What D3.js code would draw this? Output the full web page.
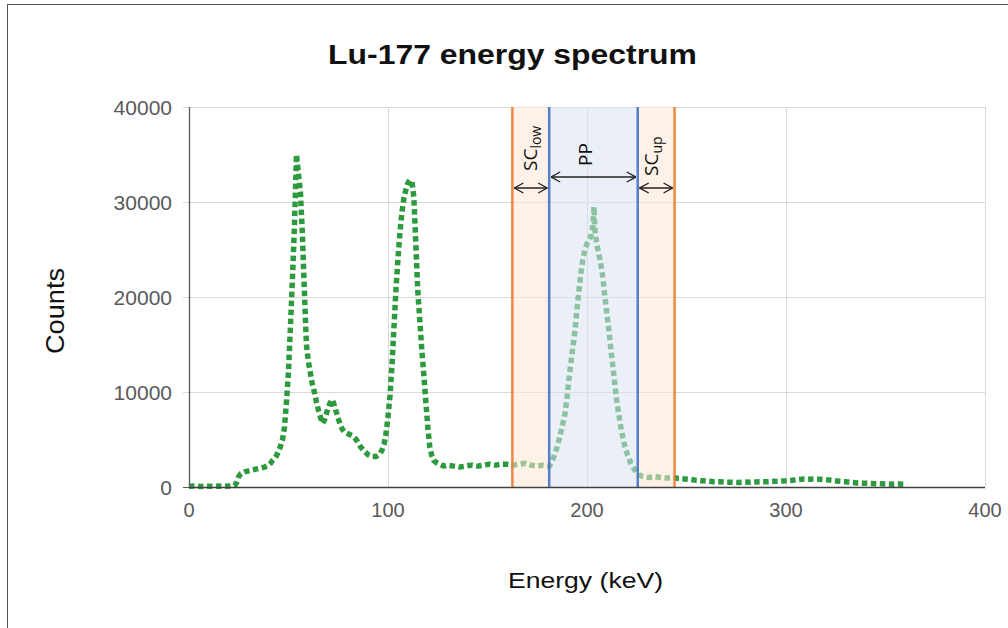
<!DOCTYPE html>
<html>
<head>
<meta charset="utf-8">
<script src="https://cdn.jsdelivr.net/npm/d3@7/dist/d3.min.js"></script>
<style>
  html, body { margin: 0; padding: 0; background: #fff; }
  svg { display: block; }
</style>
</head>
<body>
<svg id="chart" width="1008" height="628"></svg>
<script>
// Spectrum: energy (keV) and counts
const energy = [
  0, 3, 6, 9, 12, 15, 18, 21, 23, 24, 25, 26, 28, 30, 32, 34, 36, 38, 40, 41,
  42, 43, 44, 45, 46, 47, 48, 49, 50, 51, 52, 53, 54, 55, 56, 57, 58, 59, 60, 61,
  62, 63, 64, 65, 66, 67, 68, 69, 70, 71, 72, 73, 74, 75, 76, 77, 78, 80, 82, 84,
  86, 88, 90, 92, 94, 96, 97, 98, 99, 100, 101, 102, 103, 104, 105, 106, 107, 108, 109, 110,
  111, 112, 113, 114, 115, 116, 117, 118, 119, 120, 121, 122, 123, 124, 126, 128, 130, 133, 136, 139,
  142, 145, 148, 151, 154, 157, 160, 163, 166, 169, 172, 175, 178, 181, 182, 183, 184, 185, 186, 187,
  188, 189, 190, 191, 192, 193, 194, 195, 196, 197, 198, 199, 200, 201, 202, 203, 203.5, 204, 205, 206,
  207, 208, 209, 210, 211, 212, 213, 214, 215, 216, 217, 218, 219, 220, 221, 222, 223, 224, 225, 226,
  228, 231, 234, 237, 240, 243, 246, 249, 252, 255, 258, 261, 264, 267, 270, 273, 276, 279, 282, 285,
  288, 291, 294, 297, 300, 303, 306, 309, 312, 315, 318, 321, 324, 327, 330, 333, 336, 339, 342, 345,
  348, 351, 354, 357, 360
];
const counts = [
  80, 110, 60, 90, 70, 100, 80, 120, 150, 500, 1100, 1400, 1600, 1700, 1800, 1900, 2000, 2100, 2300, 2500,
  2800, 3000, 3300, 3800, 4300, 5000, 6300, 9000, 12200, 17000, 22000, 27500, 35000, 33000, 31000, 26500, 20500, 15000, 13200, 12000,
  10800, 10000, 9000, 8100, 7400, 6700, 7000, 7700, 8400, 8900, 9200, 8600, 7900, 7200, 6600, 6100, 5800, 5600, 5400, 5000,
  4300, 3800, 3400, 3200, 3200, 3500, 3900, 4500, 5600, 7400, 9600, 12800, 16800, 20800, 24000, 26800, 28900, 30400, 31300, 32000,
  32300, 32200, 30500, 25500, 20500, 17500, 14400, 11800, 9000, 6300, 4200, 3300, 2800, 2600, 2400, 2200, 2300, 2200, 2100, 2200,
  2300, 2200, 2300, 2400, 2300, 2400, 2400, 2300, 2400, 2500, 2300, 2200, 2300, 2200, 2500, 3000, 3600, 4200, 5000, 5900,
  6800, 7800, 9500, 11500, 13200, 14900, 16500, 18800, 20800, 22600, 24100, 25000, 25600, 26000, 26400, 27500, 29500, 27000, 25500, 24500,
  23400, 22000, 20000, 18200, 16500, 14500, 12700, 10800, 9000, 7600, 6300, 5200, 4300, 3600, 3100, 2500, 2100, 1800, 1500, 1300,
  1100, 1000, 1100, 1000, 950, 1000, 900, 850, 800, 700, 650, 600, 550, 550, 500, 500, 480, 520, 500, 530,
  550, 560, 600, 630, 650, 700, 780, 850, 820, 850, 800, 750, 680, 600, 550, 470, 430, 400, 380, 350,
  330, 310, 300, 310, 290
];

// Energy windows: lower scatter, photopeak, upper scatter
const windowEdges = [162.5, 181, 225.5, 244];
const windowNames = [
  { main: "SC", sub: "low" },
  { main: "PP", sub: "" },
  { main: "SC", sub: "up" }
];

const xTicks = [0, 100, 200, 300, 400];
const yTicks = [0, 10000, 20000, 30000, 40000];

const title = "Lu-177 energy spectrum";
const xTitle = "Energy (keV)";
const yTitle = "Counts";

const svg = d3.select("#chart");
const W = 1008, H = 628;
const plotL = 189, plotR = 985, plotT = 107, plotB = 487;

const x = d3.scaleLinear().domain([0, 400]).range([plotL, plotR]);
const y = d3.scaleLinear().domain([0, 40000]).range([plotB, plotT]);

// Outer frame
svg.append("rect")
  .attr("x", 7.5).attr("y", 4.5)
  .attr("width", W + 10).attr("height", H + 10)
  .attr("fill", "#fff").attr("stroke", "#555").attr("stroke-width", 1);

// Grid
const grid = svg.append("g");
grid.selectAll("line.h").data(yTicks.filter(d => d > 0)).join("line")
  .attr("x1", plotL - 6).attr("x2", plotR)
  .attr("y1", d => Math.round(y(d)) + 0.5).attr("y2", d => Math.round(y(d)) + 0.5)
  .attr("stroke", "#d9d9d9").attr("stroke-width", 1);
grid.selectAll("line.v").data(xTicks.filter(d => d > 0)).join("line")
  .attr("y1", plotT).attr("y2", plotB)
  .attr("x1", d => Math.round(x(d)) + 0.5).attr("x2", d => Math.round(x(d)) + 0.5)
  .attr("stroke", "#d9d9d9").attr("stroke-width", 1);

// Spectrum line
const pts = energy.map((e, i) => [e, counts[i]]);
const line = d3.line().x(d => x(d[0])).y(d => y(d[1]));
svg.append("path")
  .datum(pts)
  .attr("d", line)
  .attr("fill", "none")
  .attr("stroke", "#2e9a40")
  .attr("stroke-width", 5.5)
  .attr("stroke-dasharray", "5.5,3.5")
  .attr("stroke-linejoin", "round");

// Window shading (drawn over the spectrum, semi-transparent)
const bands = [
  { a: windowEdges[0], b: windowEdges[1], fill: "rgba(251,229,214,0.55)" },
  { a: windowEdges[1], b: windowEdges[2], fill: "rgba(218,227,243,0.55)" },
  { a: windowEdges[2], b: windowEdges[3], fill: "rgba(251,229,214,0.55)" }
];
svg.selectAll("rect.band").data(bands).join("rect")
  .attr("x", d => x(d.a)).attr("width", d => x(d.b) - x(d.a))
  .attr("y", plotT).attr("height", plotB - plotT)
  .attr("fill", d => d.fill);

// Window edges
const edgeColors = ["#ed7d31", "#4472c4", "#4472c4", "#ed7d31"];
svg.selectAll("line.edge").data(windowEdges).join("line")
  .attr("x1", d => x(d)).attr("x2", d => x(d))
  .attr("y1", plotT).attr("y2", plotB)
  .attr("stroke", (d, i) => edgeColors[i])
  .attr("stroke-width", 2.5)
  .attr("opacity", 0.9);

// Axes
svg.append("line")
  .attr("x1", plotL).attr("x2", plotR).attr("y1", plotB + 0.5).attr("y2", plotB + 0.5)
  .attr("stroke", "#404040").attr("stroke-width", 1.3);
svg.append("line")
  .attr("x1", plotL + 0.5).attr("x2", plotL + 0.5).attr("y1", plotT).attr("y2", plotB)
  .attr("stroke", "#595959").attr("stroke-width", 1.3);
svg.append("line")
  .attr("x1", plotL - 6).attr("x2", plotL).attr("y1", plotB + 0.5).attr("y2", plotB + 0.5)
  .attr("stroke", "#595959");

const tickFont = "'Liberation Sans', Arial, sans-serif";
svg.selectAll("text.yt").data(yTicks).join("text")
  .attr("x", plotL - 17).attr("y", d => y(d) + 8)
  .attr("text-anchor", "end")
  .attr("font-family", tickFont).attr("font-size", 21)
  .attr("fill", "#595959")
  .text(d => d);
svg.selectAll("text.xt").data(xTicks).join("text")
  .attr("x", d => x(d)).attr("y", plotB + 30)
  .attr("text-anchor", "middle")
  .attr("font-family", tickFont).attr("font-size", 20)
  .attr("fill", "#595959")
  .text(d => d);

// Titles
svg.append("text")
  .attr("x", 328).attr("y", 64)
  .attr("font-family", tickFont).attr("font-size", 28).attr("font-weight", "bold")
  .attr("textLength", 369).attr("lengthAdjust", "spacingAndGlyphs")
  .attr("fill", "#111")
  .text(title);
svg.append("text")
  .attr("x", 508).attr("y", 588)
  .attr("font-family", tickFont).attr("font-size", 22)
  .attr("textLength", 155).attr("lengthAdjust", "spacingAndGlyphs")
  .attr("fill", "#111")
  .text(xTitle);
svg.append("text")
  .attr("transform", "translate(64,354) rotate(-90)")
  .attr("font-family", tickFont).attr("font-size", 26)
  .attr("textLength", 86).attr("lengthAdjust", "spacingAndGlyphs")
  .attr("fill", "#111")
  .text(yTitle);

// Double-headed arrows for the windows
const defs = svg.append("defs");
["start", "end"].forEach(k => {
  defs.append("marker")
    .attr("id", "arr-" + k)
    .attr("viewBox", "0 0 12 12")
    .attr("refX", k === "end" ? 11.5 : 0.5).attr("refY", 6)
    .attr("markerWidth", 12).attr("markerHeight", 12)
    .attr("markerUnits", "userSpaceOnUse")
    .attr("orient", "auto")
    .append("path")
    .attr("d", k === "end" ? "M2.5,1 L11.5,6 L2.5,11" : "M9.5,1 L0.5,6 L9.5,11")
    .attr("fill", "none").attr("stroke", "#222").attr("stroke-width", 1.4);
});
const arrowY = [188, 177, 188];
windowNames.forEach((w, i) => {
  const a = x(windowEdges[i]) + 2, b = x(windowEdges[i + 1]) - 2;
  svg.append("line")
    .attr("x1", a).attr("x2", b).attr("y1", arrowY[i]).attr("y2", arrowY[i])
    .attr("stroke", "#222").attr("stroke-width", 1.3)
    .attr("marker-start", "url(#arr-start)")
    .attr("marker-end", "url(#arr-end)");
});

// Window labels, rotated (anchored at their lower end)
const labelFont = "'Open Sans', 'Noto Sans', sans-serif";
const labelPos = [[537, 171], [592, 166], [658, 176]];
windowNames.forEach((w, i) => {
  const t = svg.append("text")
    .attr("transform", `translate(${labelPos[i][0]},${labelPos[i][1]}) rotate(-90)`)
    .attr("font-family", labelFont).attr("font-size", 19)
    .attr("fill", "#111");
  t.append("tspan").text(w.main);
  if (w.sub) {
    t.append("tspan").attr("font-size", 14).attr("dy", 4).text(w.sub);
  }
});
</script>
</body>
</html>
